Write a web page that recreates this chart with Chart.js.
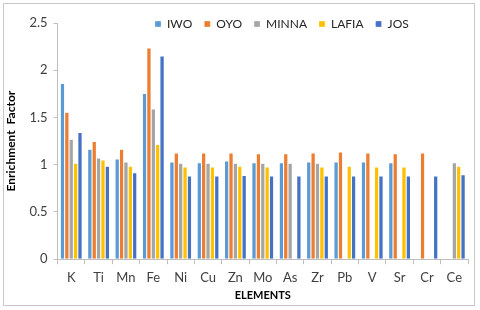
<!DOCTYPE html>
<html>
<head>
<meta charset="utf-8">
<script src="https://cdn.jsdelivr.net/npm/chart.js@4"></script>
<style>
  body { margin: 0; background: #fff; }
  #wrap { position: relative; width: 480px; height: 310px; }
  #frame { position: absolute; left: 3px; top: 3px; width: 470px; height: 301px; border: 1px solid #c8c8c8; pointer-events: none; }
</style>
</head>
<body>
<div id="wrap">
  <canvas id="chart" width="480" height="310"></canvas>
  <div id="frame"></div>
</div>
<script>
// categories
const elements = ['K', 'Ti', 'Mn', 'Fe', 'Ni', 'Cu', 'Zn', 'Mo', 'As', 'Zr', 'Pb', 'V', 'Sr', 'Cr', 'Ce'];

// enrichment factor per site
const iwo   = [1.86, 1.165, 1.06, 1.755, 1.03, 1.02, 1.04, 1.02, 1.02, 1.03, 1.03, 1.03, 1.02, null, null];
const oyo   = [1.555, 1.245, 1.165, 2.235, 1.125, 1.125, 1.125, 1.115, 1.115, 1.125, 1.135, 1.125, 1.115, 1.125, null];
const minna = [1.27, 1.07, 1.03, 1.59, 1.015, 1.015, 1.015, 1.015, 1.015, 1.015, null, null, null, null, 1.02];
const lafia = [1.015, 1.05, 0.985, 1.215, 0.975, 0.975, 0.985, 0.975, null, 0.975, 0.985, 0.975, 0.975, null, 0.985];
const jos   = [1.34, 0.985, 0.915, 2.15, 0.88, 0.88, 0.885, 0.88, 0.88, 0.88, 0.88, 0.88, 0.88, 0.88, 0.895];

const yTicks = [0, 0.5, 1, 1.5, 2, 2.5];

const font = "Lato, 'Liberation Sans', sans-serif";
const axisGrey = '#bfbfbf';
const labelGrey = '#404040';

// legend sits over the top of the plot, a bit right of centre like the original
const legendMover = {
  id: 'legendMover',
  afterLayout(chart) {
    const lg = chart.legend;
    const w = lg.right - lg.left;
    lg.left = 143;
    lg.right = lg.left + w;
    lg.top = 6;
    lg.bottom = 42;
    lg.height = 36;
  }
};

function ds(label, data, color) {
  return {
    label: label,
    data: data,
    backgroundColor: color,
    borderColor: 'rgba(255,255,255,0.6)',
    borderWidth: 0.5,
    barPercentage: 0.98,
    categoryPercentage: 0.8
  };
}

new Chart(document.getElementById('chart').getContext('2d'), {
  type: 'bar',
  data: {
    labels: elements,
    datasets: [
      ds('IWO', iwo, '#5b9bd5'),
      ds('OYO', oyo, '#ed7d31'),
      ds('MINNA', minna, '#a5a5a5'),
      ds('LAFIA', lafia, '#ffc000'),
      ds('JOS', jos, '#4472c4')
    ]
  },
  options: {
    responsive: false,
    animation: false,
    layout: { padding: { left: 4, right: 12, top: 5, bottom: 8 } },
    plugins: {
      tooltip: { enabled: false },
      legend: {
        position: 'top',
        align: 'start',
        maxHeight: 18,
        labels: {
          boxWidth: 6,
          boxHeight: 6,
          padding: 12,
          color: '#262626',
          font: { family: font, size: 12 }
        }
      }
    },
    scales: {
      x: {
        grid: { drawOnChartArea: false, drawTicks: true, tickLength: 5, color: axisGrey, offset: true },
        border: { color: axisGrey },
        ticks: { color: labelGrey, font: { family: font, size: 13 }, padding: 6, maxRotation: 0 },
        title: { display: true, text: 'ELEMENTS', color: '#000', font: { family: font, size: 11, weight: 'bold' }, padding: { top: -3, bottom: 0 } }
      },
      y: {
        min: 0,
        max: 2.5,
        afterBuildTicks(axis) { axis.ticks = yTicks.map(v => ({ value: v })); },
        grid: { drawOnChartArea: false, drawTicks: true, tickLength: 4, color: axisGrey },
        border: { color: axisGrey },
        ticks: { color: labelGrey, font: { family: font, size: 13 }, padding: 6, callback: v => String(v) },
        title: { display: true, text: 'Enrichment  Factor', color: '#000', font: { family: font, size: 12, weight: 'bold' }, padding: { top: 0, bottom: 5 } }
      }
    }
  },
  plugins: [legendMover]
});
</script>
</body>
</html>
